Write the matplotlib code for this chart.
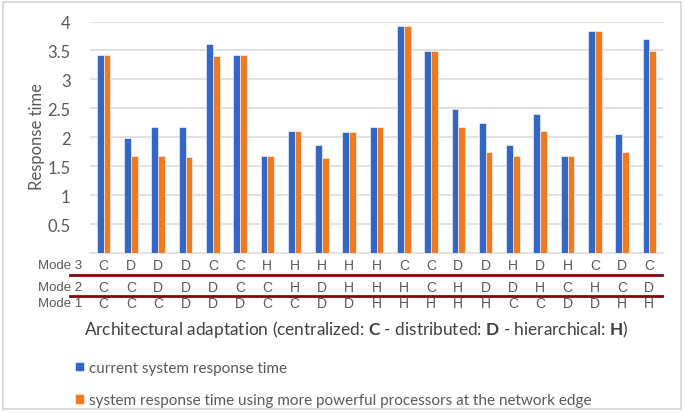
import matplotlib
matplotlib.use("Agg")
import matplotlib.pyplot as plt
import matplotlib.transforms as mtransforms
from matplotlib.patches import Rectangle
import numpy as np

current = [3.42, 1.98, 2.18, 2.17, 3.61, 3.42, 1.68, 2.10, 1.87, 2.09, 2.18,
           3.92, 3.49, 2.48, 2.25, 1.87, 2.40, 1.67, 3.84, 2.05, 3.69]
powerful = [3.42, 1.68, 1.67, 1.66, 3.40, 3.42, 1.68, 2.10, 1.65, 2.09, 2.18,
            3.92, 3.49, 2.18, 1.75, 1.67, 2.10, 1.67, 3.83, 1.75, 3.49]
mode3 = list("CDDDCCHHHHHCCDDHDHCDC")
mode2 = list("CCDDDCCHDHHHCHDDHCHCD")
mode1 = list("CCCDDDCCDDHHHHHCCDDHH")
mode_names = ["Mode 3", "Mode 2", "Mode 1"]
yticks = [0.5, 1, 1.5, 2, 2.5, 3, 3.5, 4]
series_names = ["current system response time",
                "system response time using more powerful processors at the network edge"]

BLUE = "#3466C6"
ORANGE = "#F07A22"
GRAY_TXT = "#595959"
FONT = "Lato"

W, H = 685, 414
fig = plt.figure(figsize=(W / 100, H / 100), dpi=100)

def fx(px):
    return px / W

def fy(py):
    return 1 - py / H

AX_L, AX_R, AX_T, AX_B = 90, 663, 22.5, 254
ax = fig.add_axes([fx(AX_L), fy(AX_B), fx(AX_R) - fx(AX_L), fy(AX_T) - fy(AX_B)])
x = np.arange(len(current))
bw = 0.25
b1 = ax.bar(x - bw / 2, current, bw, color=BLUE, edgecolor="white", linewidth=0.4,
            label=series_names[0], zorder=3)
b2 = ax.bar(x + bw / 2, powerful, bw, color=ORANGE, edgecolor="white", linewidth=0.4,
            label=series_names[1], zorder=3)
ax.set_xlim(-0.5, len(current) - 0.5)
ax.set_ylim(0, 4)
ax.set_yticks(yticks)
ax.set_yticklabels([f"{t:g}" for t in yticks], fontfamily=FONT, fontsize=12, color=GRAY_TXT)
ax.tick_params(axis="y", length=0, pad=14)
ax.set_xticks([])
ax.grid(axis="y", color="#D9D9D9", linewidth=1.1, zorder=0)
for s in ["top", "right", "left"]:
    ax.spines[s].set_visible(False)
ax.spines["bottom"].set_color("#D9D9D9")
ax.spines["bottom"].set_linewidth(1.1)

ax.set_ylabel("Response time", fontfamily=FONT, fontsize=12, color=GRAY_TXT)
ax.yaxis.set_label_coords((37 - AX_L) / (AX_R - AX_L), (AX_B - 137) / (AX_B - AX_T))
ax.yaxis.label.set_va("center")

# category rows
trans = mtransforms.blended_transform_factory(ax.transData, fig.transFigure)
rows = [mode3, mode2, mode1]
row_y = [266, 288, 304]
for name, labels, yy in zip(mode_names, rows, row_y):
    fig.text(fx(82), fy(yy), name, ha="right", va="center", fontfamily="Liberation Sans",
             fontsize=9.5, color=GRAY_TXT)
    for i, lab in enumerate(labels):
        ax.text(i, fy(yy), lab, transform=trans, ha="center", va="center",
                fontfamily="Liberation Sans", fontsize=10, color=GRAY_TXT, clip_on=False)

for ly in [275.5, 296.5]:
    fig.add_artist(plt.Line2D([fx(70), fx(662)], [fy(ly), fy(ly)], transform=fig.transFigure,
                              color="#7B0A0A", linewidth=2.0))

# x label with bold letters
plt.rcParams["mathtext.fontset"] = "custom"
plt.rcParams["mathtext.rm"] = FONT
plt.rcParams["mathtext.bf"] = FONT + ":bold"
fig.text(fx(356), fy(330),
         r"Architectural adaptation (centralized: $\mathbf{C}$ - distributed: $\mathbf{D}$ - hierarchical: $\mathbf{H}$)",
         ha="center", va="center", fontfamily=FONT, fontsize=12.4, color="#404040")

leg = fig.legend(handles=[b1, b2], labels=series_names, loc="upper left",
                 bbox_to_anchor=(fx(75), fy(362)), frameon=False,
                 prop={"family": FONT, "size": 11}, labelcolor=GRAY_TXT,
                 handlelength=0.6, handleheight=0.6, handletextpad=0.3,
                 labelspacing=1.2, borderaxespad=0, borderpad=0)

fig.add_artist(Rectangle((fx(3), fy(410)), fx(681) - fx(3), fy(3) - fy(410),
                         transform=fig.transFigure, fill=False, edgecolor="#D4D4D4",
                         linewidth=1.2))

fig.savefig("out.png", dpi=100)
